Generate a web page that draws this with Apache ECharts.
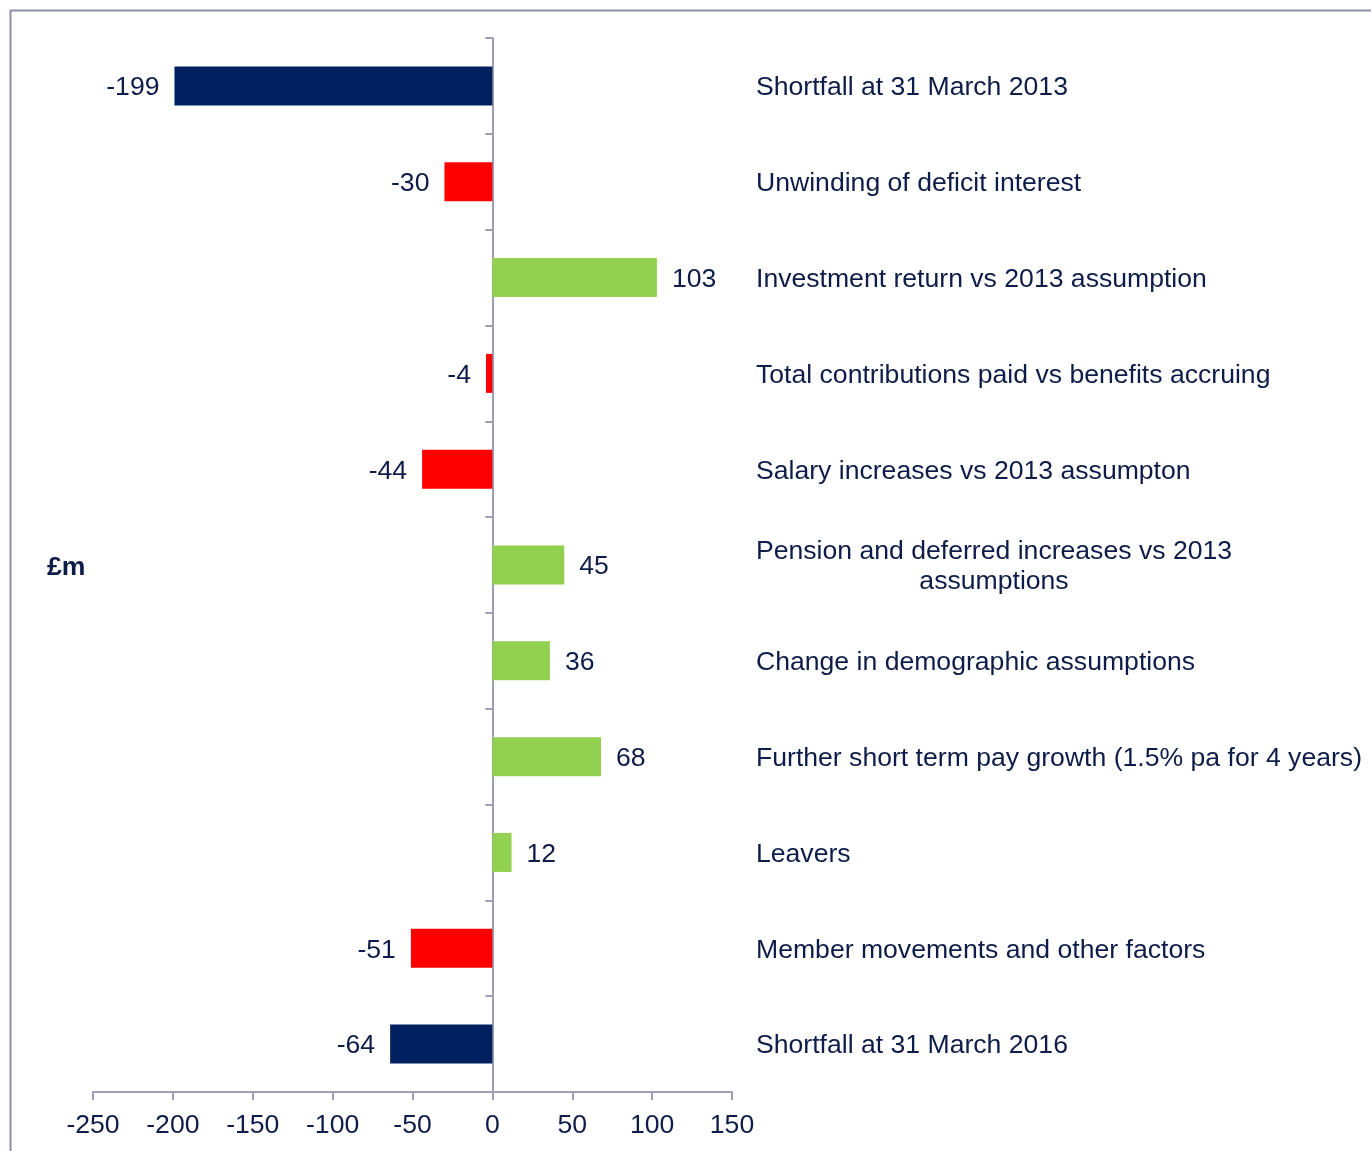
<!DOCTYPE html>
<html>
<head>
<meta charset="utf-8">
<script src="https://cdn.jsdelivr.net/npm/echarts@6/dist/echarts.min.js"></script>
<style>
  html, body { margin: 0; padding: 0; background: #fff; }
  #chart { width: 1371px; height: 1151px; }
</style>
</head>
<body>
<div id="chart"></div>
<script>
const categories = [
  'Shortfall at 31 March 2013',
  'Unwinding of deficit interest',
  'Investment return vs 2013 assumption',
  'Total contributions paid vs benefits accruing',
  'Salary increases vs 2013 assumpton',
  'Pension and deferred increases vs 2013\nassumptions',
  'Change in demographic assumptions',
  'Further short term pay growth (1.5% pa for 4 years)',
  'Leavers',
  'Member movements and other factors',
  'Shortfall at 31 March 2016'
]
const values = [-199, -30, 103, -4, -44, 45, 36, 68, 12, -51, -64]
const xTicks = { min: -250, max: 150, interval: 50 }
const unitLabel = '£m'

const textColor = '#0d1c48'
const axisColor = '#9c9fb6'
const font = 'Arial, "Liberation Sans", sans-serif'
const fs = 26.6

const barColor = (v, i) => {
  if (i === 0 || i === values.length - 1) return '#002060'
  return v < 0 ? '#ff0000' : '#92d050'
}

const chart = echarts.init(document.getElementById('chart'))

chart.setOption({
  animation: false,
  textStyle: { fontFamily: font },
  grid: { left: 93, right: 639, top: 38, bottom: 59 },
  xAxis: {
    type: 'value',
    min: xTicks.min,
    max: xTicks.max,
    interval: xTicks.interval,
    splitLine: { show: false },
    axisLine: { show: true, lineStyle: { color: axisColor, width: 2 } },
    axisTick: { show: true, length: 8, lineStyle: { color: axisColor, width: 2 } },
    axisLabel: { color: textColor, fontSize: fs, margin: 20, fontFamily: font }
  },
  yAxis: [
    {
      type: 'category',
      data: categories,
      inverse: true,
      axisLine: { onZero: true, lineStyle: { color: axisColor, width: 2 } },
      axisTick: { show: true, length: 7, alignWithLabel: false, lineStyle: { color: axisColor, width: 2 } },
      axisLabel: { show: false }
    },
    {
      type: 'category',
      data: categories,
      inverse: true,
      position: 'right',
      axisLine: { show: false },
      axisTick: { show: false },
      axisLabel: {
        color: textColor,
        fontSize: fs,
        fontFamily: font,
        align: 'left',
        margin: 24,
        lineHeight: 30,
        padding: [4, 0, 0, 0],
        formatter: (name) => {
          const lines = name.split('\n')
          if (lines.length === 1) return name
          return '{l|' + lines[0] + '}\n' + lines.slice(1).map(s => '{c|' + s + '}').join('\n')
        },
        rich: {
          l: { color: textColor, fontSize: fs, fontFamily: font, lineHeight: 30, align: 'left' },
          c: { color: textColor, fontSize: fs, fontFamily: font, lineHeight: 30, align: 'center' }
        }
      }
    }
  ],
  graphic: [
    {
      type: 'rect',
      left: 8,
      top: 8,
      shape: { width: 1400, height: 1200 },
      style: { fill: 'none', stroke: '#8d90a8', lineWidth: 2 },
      silent: true
    },
    {
      type: 'text',
      left: 47,
      top: 554,
      style: { text: unitLabel, fill: textColor, font: 'bold ' + fs + 'px ' + font }
    }
  ],
  series: [
    {
      type: 'bar',
      yAxisIndex: 0,
      barWidth: 39,
      data: values.map((v, i) => ({
        value: v,
        itemStyle: { color: barColor(v, i) },
        label: { position: v < 0 ? 'left' : 'right' }
      })),
      label: {
        show: true,
        distance: 15,
        offset: [0, 2],
        color: textColor,
        fontSize: fs,
        fontFamily: font
      }
    }
  ]
})
</script>
</body>
</html>
